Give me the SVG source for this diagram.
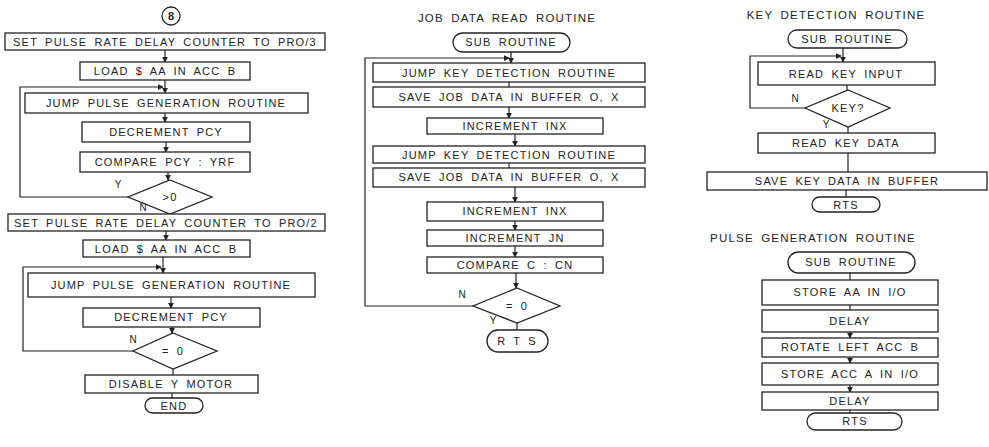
<svg xmlns="http://www.w3.org/2000/svg" width="989" height="447" viewBox="0 0 989 447">
<defs>
<marker id="ah" viewBox="0 0 8 8" refX="7" refY="4" markerWidth="5" markerHeight="5" orient="auto"><path d="M0,0 L8,4 L0,8 z" fill="#222"/></marker>
</defs>
<style>
.b{fill:#fff;stroke:#222;stroke-width:1.3}
.c{fill:none;stroke:#222;stroke-width:1.2;marker-end:url(#ah)}
.l{fill:none;stroke:#222;stroke-width:1.2}
text{font-family:"Liberation Sans",Arial,sans-serif;font-size:11px;fill:#222;text-anchor:middle;letter-spacing:1.2px;word-spacing:3px}
.t{font-size:11.5px}
.s{font-size:10px;letter-spacing:0}
</style>
<rect width="989" height="447" fill="#fff"/>
<g id="connectors">
<line class="c" x1="165" y1="50" x2="165" y2="62"/>
<line class="c" x1="165" y1="80" x2="165" y2="93"/>
<path class="c" d="M128,197 H20 V87 H163"/>
<line class="c" x1="165" y1="113" x2="165" y2="122"/>
<line class="c" x1="166" y1="142" x2="166" y2="152"/>
<line class="c" x1="168" y1="172" x2="168" y2="180"/>
<line class="c" x1="166" y1="231" x2="166" y2="240"/>
<line class="c" x1="163" y1="257" x2="163" y2="273"/>
<path class="c" d="M133,351 H23 V267 H161"/>
<line class="c" x1="171" y1="297" x2="171" y2="308"/>
<line class="c" x1="172" y1="327" x2="172" y2="333"/>
<line class="l" x1="173" y1="369" x2="173" y2="375"/>
<line class="l" x1="172" y1="393" x2="172" y2="398"/>

<line class="c" x1="511" y1="52" x2="511" y2="63"/>
<path class="c" d="M473,306 H365 V58 H509"/>
<line class="l" x1="509" y1="82" x2="509" y2="87"/>
<line class="c" x1="509" y1="107" x2="509" y2="118"/>
<line class="c" x1="515" y1="134" x2="515" y2="146"/>
<line class="l" x1="509" y1="163" x2="509" y2="168"/>
<line class="c" x1="515" y1="187" x2="515" y2="202"/>
<line class="c" x1="515" y1="221" x2="515" y2="230"/>
<line class="c" x1="515" y1="246" x2="515" y2="257"/>
<line class="c" x1="516" y1="273" x2="516" y2="288"/>
<line class="l" x1="517" y1="323" x2="517" y2="330"/>

<line class="c" x1="843" y1="48" x2="843" y2="62"/>
<path class="c" d="M805,108 H750 V56 H841"/>
<line class="l" x1="847" y1="85" x2="847" y2="90"/>
<line class="l" x1="848" y1="127" x2="848" y2="133"/>
<line class="l" x1="848" y1="153" x2="848" y2="172"/>
<line class="l" x1="846" y1="190" x2="846" y2="197"/>
<line class="l" x1="850" y1="273" x2="850" y2="280"/>
<line class="l" x1="850" y1="305" x2="850" y2="310"/>
<line class="c" x1="850" y1="332" x2="850" y2="338"/>
<line class="c" x1="850" y1="357" x2="850" y2="363"/>
<line class="c" x1="850" y1="385" x2="850" y2="392"/>
<line class="l" x1="850" y1="410" x2="850" y2="413"/>
</g>

<g id="n8"><circle class="b" cx="171" cy="16" r="9"/><text x="171" y="20" style="font-weight:bold;letter-spacing:0">8</text></g>
<g id="l1"><rect class="b" x="5" y="33" width="320" height="17"/><text x="165" y="46">SET PULSE RATE DELAY COUNTER TO PRO/3</text></g>
<g id="l2"><rect class="b" x="80" y="62" width="170" height="18"/><text x="165" y="75">LOAD $ AA IN ACC B</text></g>
<g id="l3"><rect class="b" x="25" y="93" width="283" height="20"/><text x="166" y="107">JUMP PULSE GENERATION ROUTINE</text></g>
<g id="l4"><rect class="b" x="82" y="122" width="168" height="20"/><text x="166" y="136">DECREMENT PCY</text></g>
<g id="l5"><rect class="b" x="80" y="152" width="170" height="20"/><text x="165" y="166">COMPARE PCY : YRF</text></g>
<g id="l6"><polygon class="b" points="170,180 212,197 170,214 128,197"/><text x="170" y="201">&gt;0</text><text class="s" x="118" y="188">Y</text><text class="s" x="143" y="211">N</text></g>
<g id="l7"><rect class="b" x="8" y="214" width="317" height="17"/><text x="166" y="227">SET PULSE RATE DELAY COUNTER TO PRO/2</text></g>
<g id="l8"><rect class="b" x="83" y="240" width="167" height="17"/><text x="166" y="253">LOAD $ AA IN ACC B</text></g>
<g id="l9"><rect class="b" x="28" y="273" width="287" height="24"/><text x="171" y="289">JUMP PULSE GENERATION ROUTINE</text></g>
<g id="l10"><rect class="b" x="83" y="308" width="177" height="19"/><text x="171" y="321">DECREMENT PCY</text></g>
<g id="l11"><polygon class="b" points="173,333 217,351 173,369 133,351"/><text x="173" y="355">= 0</text><text class="s" x="133" y="343">N</text></g>
<g id="l12"><rect class="b" x="85" y="375" width="173" height="18"/><text x="171" y="388">DISABLE Y MOTOR</text></g>
<g id="l13"><rect class="b" x="145" y="398" width="58" height="15" rx="7.5"/><text x="174" y="410">END</text></g>

<g id="m0"><text class="t" x="507" y="22">JOB DATA READ ROUTINE</text></g>
<g id="m1"><rect class="b" x="453" y="33" width="117" height="19" rx="9.5"/><text x="511" y="46">SUB ROUTINE</text></g>
<g id="m2"><rect class="b" x="373" y="63" width="272" height="19"/><text x="509" y="77">JUMP KEY DETECTION ROUTINE</text></g>
<g id="m3"><rect class="b" x="373" y="87" width="272" height="20"/><text x="509" y="101">SAVE JOB DATA IN BUFFER O, X</text></g>
<g id="m4"><rect class="b" x="427" y="118" width="176" height="16"/><text x="515" y="130">INCREMENT INX</text></g>
<g id="m5"><rect class="b" x="373" y="146" width="272" height="17"/><text x="509" y="159">JUMP KEY DETECTION ROUTINE</text></g>
<g id="m6"><rect class="b" x="373" y="168" width="272" height="19"/><text x="509" y="181">SAVE JOB DATA IN BUFFER O, X</text></g>
<g id="m7"><rect class="b" x="427" y="202" width="176" height="19"/><text x="515" y="215">INCREMENT INX</text></g>
<g id="m8"><rect class="b" x="427" y="230" width="176" height="16"/><text x="515" y="242">INCREMENT JN</text></g>
<g id="m9"><rect class="b" x="427" y="257" width="176" height="16"/><text x="515" y="269">COMPARE C : CN</text></g>
<g id="m10"><polygon class="b" points="517,288 560,306 517,323 473,306"/><text x="517" y="310">= 0</text><text class="s" x="462" y="298">N</text><text class="s" x="493" y="324">Y</text></g>
<g id="m11"><rect class="b" x="487" y="330" width="61" height="22" rx="11"/><text x="517" y="345">R T S</text></g>

<g id="k0"><text class="t" x="836" y="19">KEY DETECTION ROUTINE</text></g>
<g id="k1"><rect class="b" x="788" y="30" width="119" height="18" rx="9"/><text x="847" y="43">SUB ROUTINE</text></g>
<g id="k2"><rect class="b" x="758" y="62" width="177" height="23"/><text x="846" y="78">READ KEY INPUT</text></g>
<g id="k3"><polygon class="b" points="848,90 890,108 848,127 805,108"/><text x="848" y="112">KEY?</text><text class="s" x="795" y="102">N</text><text class="s" x="826" y="128">Y</text></g>
<g id="k4"><rect class="b" x="758" y="133" width="177" height="20"/><text x="846" y="147">READ KEY DATA</text></g>
<g id="k5"><rect class="b" x="707" y="172" width="280" height="18"/><text x="847" y="185">SAVE KEY DATA IN BUFFER</text></g>
<g id="k6"><rect class="b" x="812" y="197" width="68" height="15" rx="7.5"/><text x="846" y="209">RTS</text></g>

<g id="p0"><text class="t" x="813" y="242">PULSE GENERATION ROUTINE</text></g>
<g id="p1"><rect class="b" x="788" y="252" width="127" height="21" rx="10.5"/><text x="851" y="266">SUB ROUTINE</text></g>
<g id="p2"><rect class="b" x="762" y="280" width="176" height="25"/><text x="850" y="296">STORE AA IN I/O</text></g>
<g id="p3"><rect class="b" x="762" y="310" width="176" height="22"/><text x="850" y="325">DELAY</text></g>
<g id="p4"><rect class="b" x="762" y="338" width="176" height="19"/><text x="850" y="351">ROTATE LEFT ACC B</text></g>
<g id="p5"><rect class="b" x="762" y="363" width="176" height="22"/><text x="850" y="378">STORE ACC A IN I/O</text></g>
<g id="p6"><rect class="b" x="762" y="392" width="176" height="18"/><text x="850" y="405">DELAY</text></g>
<g id="p7"><rect class="b" x="807" y="413" width="95" height="17" rx="8.5"/><text x="855" y="425">RTS</text></g>
</svg>
